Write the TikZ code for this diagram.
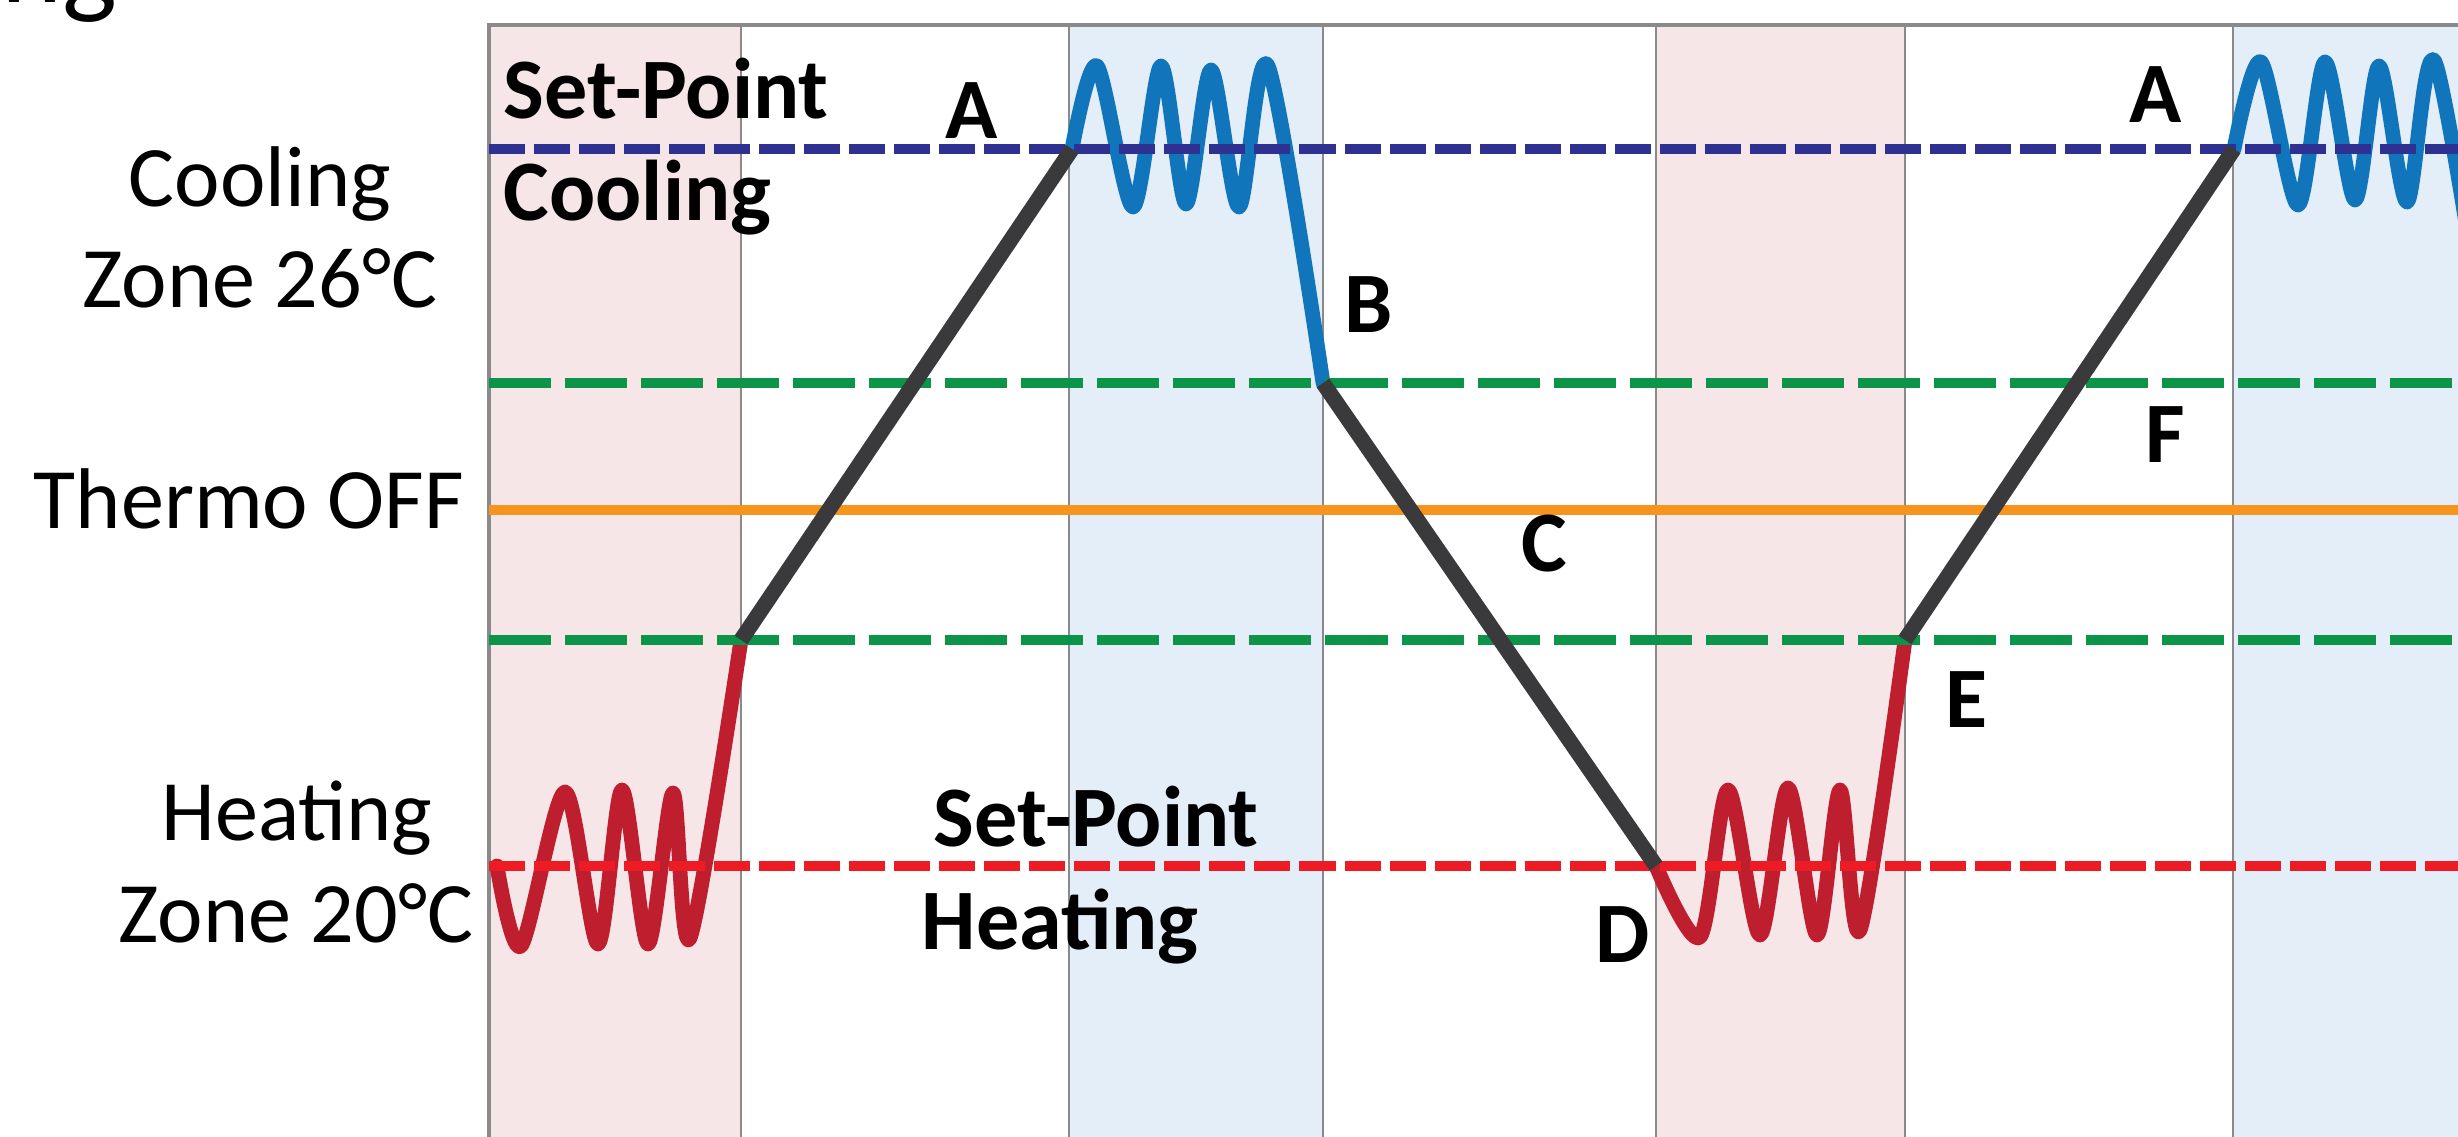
\documentclass[tikz,border=0pt]{standalone}
\usepackage{fontspec}
\setmainfont{Carlito}

\definecolor{pinkband}{RGB}{246,230,232}
\definecolor{blueband}{RGB}{227,238,248}
\definecolor{framegray}{RGB}{138,138,138}
\definecolor{navy}{RGB}{46,49,146}
\definecolor{levelgreen}{RGB}{12,148,72}
\definecolor{offorange}{RGB}{247,148,29}
\definecolor{spred}{RGB}{237,28,36}
\definecolor{heatred}{RGB}{190,30,45}
\definecolor{coolblue}{RGB}{17,117,188}
\definecolor{rampgray}{RGB}{58,58,60}

\begin{document}
\begin{tikzpicture}[x=0.01cm, y=-0.01cm]

% styles
\tikzset{
  divider/.style={draw=framegray, line width=0.7pt},
  level/.style={line width=2.6pt},
  shortdash/.style={dash pattern=on 0.36cm off 0.09cm},
  longdash/.style={dash pattern=on 0.62cm off 0.14cm},
  wave/.style={line width=4.2pt, line cap=round, line join=round},
  ramp/.style={draw=rampgray, line width=4.4pt},
  lbl/.style={inner sep=0pt, font=\fontsize{24.5}{29}\selectfont},
  tag/.style={inner sep=0pt, font=\fontsize{24.5}{29}\selectfont\bfseries},
}

\useasboundingbox (0,0) rectangle (2458,1137);
\clip (0,0) rectangle (2458,1137);

% heating and cooling periods
\fill[pinkband] (489,25) rectangle (741,1137);
\fill[blueband] (1069,25) rectangle (1323,1137);
\fill[pinkband] (1656,25) rectangle (1905,1137);
\fill[blueband] (2233,25) rectangle (2458,1137);
\foreach \x in {741,1069,1323,1656,1905,2233}
  \draw[divider] (\x,25) -- (\x,1137);

% frame
\draw[framegray, line width=1.2pt] (489,1137) -- (489,25) -- (2458,25);

% turning points
\coordinate (E0) at (741,640);
\coordinate (A1) at (1072,149);
\coordinate (B)  at (1323,383);
\coordinate (D)  at (1656,866);
\coordinate (E)  at (1905,640);
\coordinate (A2) at (2234,149);

% heating
\draw[wave, heatred] plot[smooth, tension=0.5] coordinates {
  (497,866) (521,946) (565,792) (598,944) (622,790) (648,944) (673,793) (690,938) (E0)};
\draw[wave, heatred] plot[smooth, tension=0.5] coordinates {
  (D) (1700,937) (1728,790) (1760,935) (1788,788) (1817,935) (1840,790) (1860,930) (E)};

% cooling
\draw[wave, coolblue] plot[smooth, tension=0.5] coordinates {
  (A1) (1097,66) (1133,207) (1161,66) (1186,204) (1211,70) (1239,207) (1268,66) (B)};
\draw[wave, coolblue] plot[smooth, tension=0.5] coordinates {
  (A2) (2261,62) (2298,205) (2325,62) (2355,200) (2379,66) (2407,202) (2435,62) (2490,377)};

% levels
\draw[level, navy, shortdash] (489,149) -- (2458,149);
\draw[level, levelgreen, longdash] (489,383) -- (2458,383);
\draw[level, offorange] (489,510) -- (2458,510);
\draw[level, levelgreen, longdash] (489,640) -- (2458,640);
\draw[level, spred, shortdash] (489,866) -- (2458,866);

% drift
\draw[ramp] (E0) -- (A1);
\draw[ramp] (B) -- (D);
\draw[ramp] (E) -- (A2);

% left labels
\node[lbl, font=\fontsize{33}{40}\selectfont, anchor=base east] (title) at (118,3) {ng};
\node[lbl, anchor=base] (coolname) at (260,207) {Cooling};
\node[lbl, anchor=base] (coolzone) at (260,308) {Zone 26°C};
\node[lbl, anchor=base] (thermo) at (249,529) {Thermo OFF};
\node[lbl, anchor=base] (heatname) at (297,840) {Heating};
\node[lbl, anchor=base] (heatzone) at (296,942) {Zone 20°C};

% set-points
\node[tag, anchor=base west] (spcool) at (503,119) {Set-Point};
\node[tag, anchor=base west] (spcoolb) at (503,221) {Cooling};
\node[tag, anchor=base west] (spheat) at (933,846) {Set-Point};
\node[tag, anchor=base west] (spheatb) at (921,949) {Heating};

% points
\node[tag, anchor=base] (lblA1) at (972,139) {A};
\node[tag, anchor=base] (lblB) at (1369,333) {B};
\node[tag, anchor=base] (lblC) at (1544,571) {C};
\node[tag, anchor=base] (lblD) at (1623,962) {D};
\node[tag, anchor=base] (lblE) at (1966,727) {E};
\node[tag, anchor=base] (lblF) at (2165,463) {F};
\node[tag, anchor=base] (lblA2) at (2156,123) {A};

\end{tikzpicture}
\end{document}
